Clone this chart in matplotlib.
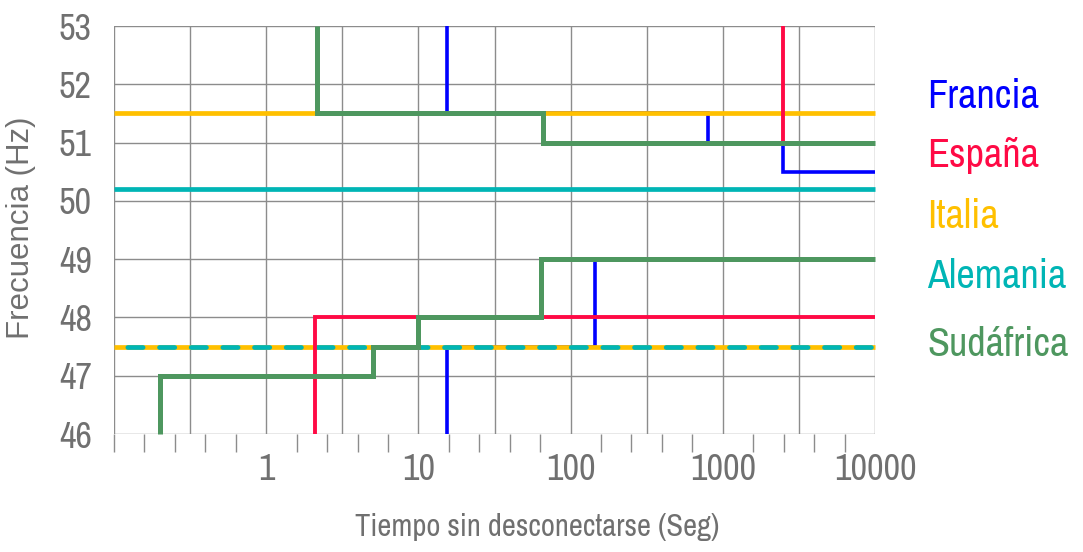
import matplotlib
matplotlib.use("Agg")
import matplotlib.pyplot as plt
from matplotlib import font_manager, ticker

# --- data -------------------------------------------------------------
# Each path is a list of (time [s], frequency [Hz]) vertices of a step curve
francia_upper_t = [15.5, 15.5, 800, 800, 2500, 2500, 10000]
francia_upper_f = [53, 51.5, 51.5, 51, 51, 50.5, 50.5]
francia_lower_t = [15.5, 15.5, 145, 145, 10000]
francia_lower_f = [46, 47.5, 47.5, 49, 49]

espana_upper_t = [2500, 2500, 10000]
espana_upper_f = [53, 51, 51]
espana_lower_t = [2.1, 2.1, 10000]
espana_lower_f = [46, 48, 48]

italia_t = [0.1, 10000]
italia_high = 51.5
italia_low = 47.5

alemania_t = [0.1, 10000]
alemania_high = 50.2
alemania_low = 47.5

sudafrica_upper_t = [2.15, 2.15, 66, 66, 10000]
sudafrica_upper_f = [53, 51.5, 51.5, 51, 51]
sudafrica_lower_t = [0.2, 0.2, 5, 5, 10, 10, 64, 64, 10000]
sudafrica_lower_f = [46, 47, 47, 47.5, 47.5, 48, 48, 49, 49]

countries = ["Francia", "España", "Italia", "Alemania", "Sudáfrica"]
colors = ["#0000FF", "#FF0A45", "#FFC000", "#00B5B5", "#4E975F"]

x_tick_values = [1, 10, 100, 1000, 10000]
x_tick_labels = ["1", "10", "100", "1000", "10000"]
y_ticks = [46, 47, 48, 49, 50, 51, 52, 53]

# --- fonts ------------------------------------------------------------
names = {f.name for f in font_manager.fontManager.ttflist}
narrow = next((n for n in ["Liberation Sans Narrow", "Arial Narrow", "Archivo Narrow",
                           "Roboto Condensed", "PT Sans Narrow", "Liberation Sans"]
               if n in names), "DejaVu Sans")
regular = "Liberation Sans" if "Liberation Sans" in names else "DejaVu Sans"
plt.rcParams["font.family"] = [narrow, "DejaVu Sans"]
plt.rcParams["lines.scale_dashes"] = False
txt_color = "#707070"
grid_color = "#8C8C8C"

fig = plt.figure(figsize=(10.83, 5.52), dpi=100)
ax = fig.add_axes([114 / 1083, 1 - 434 / 552, 761 / 1083, 408 / 552])
ax.set_xscale("log")
ax.set_xlim(0.1, 10000)
ax.set_ylim(46, 53)

# grid: half-decade verticals, integer horizontals
for k in range(-2, 9):
    ax.axvline(10 ** (k / 2), color=grid_color, lw=1.0, zorder=0.5)
for y in y_ticks:
    ax.axhline(y, color=grid_color, lw=1.0, zorder=0.5)

for s in ax.spines.values():
    s.set_visible(False)

ax.set_xticks(x_tick_values)
ax.set_xticklabels(x_tick_labels)
minor = [10 ** (k / 5) for k in range(-5, 20) if k % 5 != 0 or k == -5]
ax.set_xticks(minor, minor=True)
ax.xaxis.set_minor_formatter(ticker.NullFormatter())
ax.tick_params(axis="x", which="major", length=0, pad=14, labelsize=26, labelcolor=txt_color)
ax.tick_params(axis="x", which="minor", length=13, width=1.0, color=grid_color, direction="out")
ax.set_yticks(y_ticks)
ax.set_yticklabels([str(v) for v in y_ticks])
ax.tick_params(axis="y", length=0, pad=16, labelsize=26, labelcolor=txt_color)

common = dict(clip_on=False, solid_capstyle="butt", solid_joinstyle="miter")

# Francia
ax.plot(francia_upper_t, francia_upper_f, color=colors[0], lw=2.6, zorder=2, **common)
ax.plot(francia_lower_t, francia_lower_f, color=colors[0], lw=2.6, zorder=2, **common)

# Italia (solid) and Alemania (solid)
ax.plot(italia_t, [italia_high] * 2, color=colors[2], lw=3.4, zorder=3, **common)
ax.plot(alemania_t, [alemania_high] * 2, color=colors[3], lw=3.4, zorder=3, **common)

# shared level at 47.5: Italia underneath, Alemania dashed on top
ax.plot(italia_t, [italia_low] * 2, color=colors[2], lw=3.4, zorder=3.2, **common)
ax.plot(alemania_t, [alemania_low] * 2, color=colors[3], lw=3.4, zorder=3.4,
        linestyle=(13.2, (11.0, 11.8)), dash_capstyle="round", clip_on=False)

# España
ax.plot(espana_upper_t, espana_upper_f, color=colors[1], lw=2.8, zorder=4, **common)
ax.plot(espana_lower_t, espana_lower_f, color=colors[1], lw=2.8, zorder=4, **common)

# Sudáfrica
ax.plot(sudafrica_upper_t, sudafrica_upper_f, color=colors[4], lw=3.6, zorder=5, **common)
ax.plot(sudafrica_lower_t, sudafrica_lower_f, color=colors[4], lw=3.6, zorder=5, **common)

# axis titles
fig.text(537 / 1083, 1 - 527 / 552, "Tiempo sin desconectarse (Seg)", ha="center", va="center",
         fontsize=22, color=txt_color)
fig.text(21 / 1083, 1 - 228 / 552, "Frecuencia (Hz)", ha="center", va="center", rotation=90,
         fontsize=22.5, color=txt_color, family=[regular, "DejaVu Sans"])

# country labels
label_y = [96, 156, 216, 277, 344]
for name, c, yy in zip(countries, colors, label_y):
    fig.text(927 / 1083, 1 - yy / 552, name, ha="left", va="center", fontsize=29, color=c)

fig.savefig("out.png", dpi=100)
